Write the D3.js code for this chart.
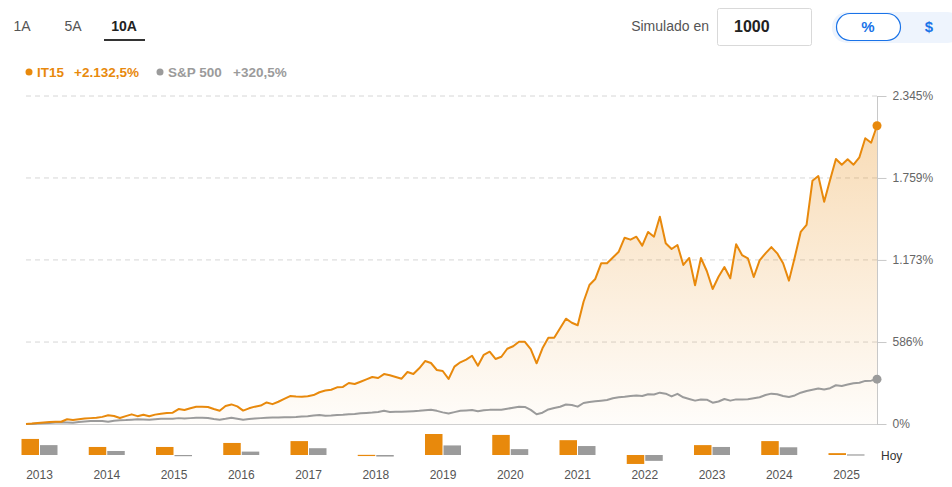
<!DOCTYPE html>
<html><head><meta charset="utf-8">
<script src="https://cdn.jsdelivr.net/npm/d3@7"></script>
<style>
html,body{margin:0;padding:0;background:#fff;}
svg{display:block;font-family:"Liberation Sans",Arial,sans-serif;}
</style></head>
<body><svg id="c" width="952" height="487"></svg>
<script>
// ---- data ----
const tabs = ["1A", "5A", "10A"];
const seriesNames = ["IT15", "S&P 500"];
const seriesTotals = ["+2.132,5%", "+320,5%"];
const it15 = [0,3,7,11,14,16,16,34,29,34,39,42,44,51,62,57,43,56,69,56,66,55,67,74,78,81,107,100,113,123,124,122,107,95,129,140,126,96,112,124,132,154,142,159,179,200,196,195,199,207,227,239,245,262,265,293,286,302,319,336,329,357,348,336,324,372,357,398,450,436,386,379,322,410,441,460,488,417,495,517,465,481,538,556,588,588,536,434,541,617,617,684,753,724,706,874,994,1037,1149,1149,1190,1232,1332,1318,1339,1275,1373,1339,1482,1292,1251,1280,1137,1187,992,1187,1094,965,1053,1122,1042,1285,1208,1185,1051,1170,1220,1265,1220,1149,1025,1194,1373,1423,1739,1773,1589,1744,1895,1854,1892,1854,1907,2043,2011,2132.5];
const sp500 = [0,0,3,5,8,10,12,11,9,14,18,21,22,21,16,24,26,28,31,34,32,30,34,38,38,38,42,39,42,45,45,43,36,31,37,45,38,31,35,39,42,45,46,47,48,49,50,53,56,60,64,59,61,64,66,69,72,76,79,82,86,94,86,87,88,90,92,94,98,102,94,83,75,85,94,97,100,91,98,101,102,102,109,116,123,122,101,70,81,104,115,123,139,136,124,150,157,162,167,172,184,191,195,200,204,200,213,211,224,217,197,216,191,179,167,175,174,152,161,179,167,176,175,177,184,191,207,217,213,200,193,204,224,236,245,254,247,256,277,272,282,292,295,308,310,320.5];
const years = ["2013","2014","2015","2016","2017","2018","2019","2020","2021","2022","2023","2024","2025"];
const it15Annual = [52,26,26,39,45,0.5,68,65,48,-29,32,45,6];
const spAnnual = [32,13,-1,11,22,-5,31,19,29,-19,26,25,2];
const yTicks = [0, 586, 1173, 1759, 2345];
const yTickLabels = ["0%", "586%", "1.173%", "1.759%", "2.345%"];

const ORANGE = "#e8890c", GREY = "#9b9b9b";
const svg = d3.select("#c");

// ---- header: tabs ----
const tabX = d3.scalePoint().domain(tabs).range([22, 124]);
svg.selectAll("text.tab").data(tabs).join("text")
  .attr("x", d => tabX(d)).attr("y", 31).attr("text-anchor", "middle")
  .attr("font-size", 14)
  .attr("font-weight", d => d === "10A" ? "bold" : "normal")
  .attr("fill", d => d === "10A" ? "#222" : "#555")
  .text(d => d);
svg.append("rect").attr("x", 104).attr("y", 39).attr("width", 41).attr("height", 2).attr("fill", "#333");

// simulated input
svg.append("text").attr("x", 709).attr("y", 31).attr("text-anchor", "end")
  .attr("font-size", 14).attr("fill", "#555").text("Simulado en");
svg.append("rect").attr("x", 717.5).attr("y", 8.5).attr("width", 94).attr("height", 37).attr("rx", 2)
  .attr("fill", "#fff").attr("stroke", "#d9d9d9");
svg.append("text").attr("x", 734).attr("y", 32).attr("font-size", 16).attr("font-weight", "bold")
  .attr("fill", "#222").text("1000");
// toggle
svg.append("rect").attr("x", 832).attr("y", 12).attr("width", 130).attr("height", 31).attr("rx", 15).attr("fill", "#eef4fd");
svg.append("rect").attr("x", 836.5).attr("y", 13.5).attr("width", 64).attr("height", 27).attr("rx", 13.5)
  .attr("fill", "#fff").attr("stroke", "#1a73e8").attr("stroke-width", 1.2);
svg.append("text").attr("x", 868).attr("y", 32).attr("text-anchor", "middle").attr("font-size", 15)
  .attr("font-weight", "bold").attr("fill", "#1a73e8").text("%");
svg.append("text").attr("x", 929).attr("y", 32).attr("text-anchor", "middle").attr("font-size", 15)
  .attr("font-weight", "bold").attr("fill", "#1a73e8").text("$");

// legend
const leg = [{c: ORANGE, x: 29}, {c: GREY, x: 160}];
const legG = svg.selectAll("g.leg").data(seriesNames).join("g").attr("class", "leg")
  .attr("transform", (d, i) => `translate(${leg[i].x},72)`);
legG.append("circle").attr("r", 3.5).attr("fill", (d, i) => leg[i].c);
legG.append("text").attr("x", 8).attr("y", 4.5).attr("font-size", 13.5).attr("font-weight", "bold")
  .attr("fill", (d, i) => leg[i].c).text(d => d);
legG.append("text").attr("x", (d, i) => i === 0 ? 45 : 73).attr("y", 4.5).attr("font-size", 13.5).attr("font-weight", "bold")
  .attr("fill", (d, i) => leg[i].c).text((d, i) => seriesTotals[i]);

// ---- main chart ----
const x = d3.scaleLinear().domain([0, it15.length - 1]).range([26, 877]);
const y = d3.scaleLinear().domain([0, 2345]).range([424, 96]);

const defs = svg.append("defs");
const grad = defs.append("linearGradient").attr("id", "ag").attr("x1", 0).attr("y1", 0).attr("x2", 0).attr("y2", 1);
grad.append("stop").attr("offset", "0%").attr("stop-color", ORANGE).attr("stop-opacity", 0.3);
grad.append("stop").attr("offset", "100%").attr("stop-color", ORANGE).attr("stop-opacity", 0.02);

// gridlines
svg.selectAll("line.grid").data(yTicks.slice(1)).join("line")
  .attr("x1", 26).attr("x2", 877).attr("y1", d => y(d)).attr("y2", d => y(d))
  .attr("stroke", "#d6d6d6").attr("stroke-dasharray", "5,4");

// area
const area = d3.area().x((d, i) => x(i)).y0(y(0)).y1(d => y(d));
svg.append("path").datum(it15).attr("d", area).attr("fill", "url(#ag)");

// baseline
svg.append("line").attr("x1", 26).attr("x2", 877).attr("y1", y(0) + 0.5).attr("y2", y(0) + 0.5).attr("stroke", "#d0d0d0");

// right axis
const axis = svg.append("g").attr("transform", "translate(877.5,0)")
  .call(d3.axisRight(y).tickValues(yTicks).tickFormat((d, i) => yTickLabels[i]).tickSize(9).tickPadding(6));
axis.select(".domain").attr("stroke", "#c8c8c8").attr("d", `M0,${y(2345)}V${y(0) + 1}`);
axis.selectAll(".tick line").attr("stroke", "#c8c8c8");
axis.selectAll(".tick text").attr("fill", "#666").attr("font-size", 12)
  .attr("font-family", "'Liberation Sans',Arial,sans-serif");

// lines
const line = d3.line().x((d, i) => x(i)).y(d => y(d));
svg.append("path").datum(sp500).attr("d", line).attr("fill", "none").attr("stroke", GREY)
  .attr("stroke-width", 2).attr("stroke-linejoin", "round");
svg.append("path").datum(it15).attr("d", line).attr("fill", "none").attr("stroke", ORANGE)
  .attr("stroke-width", 2).attr("stroke-linejoin", "round");
svg.append("circle").attr("cx", x(sp500.length - 1)).attr("cy", y(sp500[sp500.length - 1])).attr("r", 4.5).attr("fill", GREY);
svg.append("circle").attr("cx", x(it15.length - 1)).attr("cy", y(it15[it15.length - 1])).attr("r", 4.5).attr("fill", ORANGE);

// ---- annual bars ----
const xb = d3.scalePoint().domain(years).range([39.5, 846.5]);
const yb = d3.scaleLinear().domain([0, 68]).range([455, 434]);
const bw = 17.5;
const bars = svg.selectAll("g.yr").data(years).join("g").attr("class", "yr");
bars.append("rect")
  .attr("x", d => xb(d) - bw - 0.5).attr("width", bw)
  .attr("y", (d, i) => Math.min(yb(it15Annual[i]), yb(0)))
  .attr("height", (d, i) => Math.max(1.2, Math.abs(yb(it15Annual[i]) - yb(0))))
  .attr("fill", ORANGE);
bars.append("rect")
  .attr("x", d => xb(d) + 0.5).attr("width", bw)
  .attr("y", (d, i) => Math.min(yb(spAnnual[i]), yb(0)))
  .attr("height", (d, i) => Math.max(1.2, Math.abs(yb(spAnnual[i]) - yb(0))))
  .attr("fill", GREY);
bars.append("text").attr("x", d => xb(d)).attr("y", 479).attr("text-anchor", "middle")
  .attr("font-size", 12).attr("fill", "#555").text(d => d);
svg.append("text").attr("x", 881).attr("y", 460).attr("font-size", 12).attr("fill", "#333").text("Hoy");
</script></body></html>
